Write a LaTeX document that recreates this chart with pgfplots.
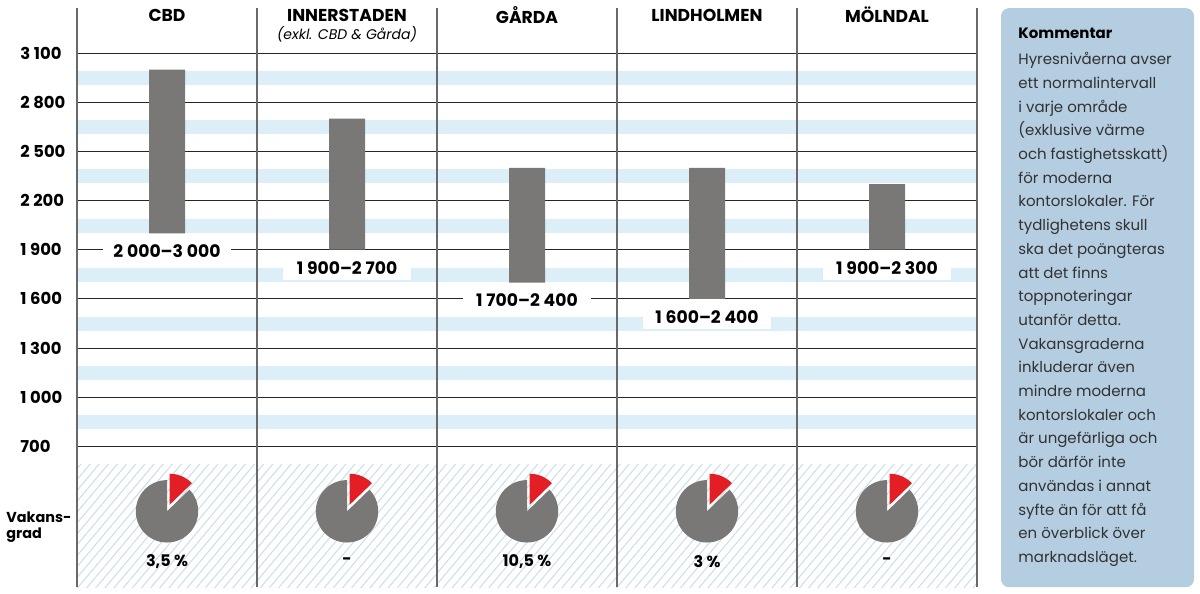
\documentclass[border=0pt]{standalone}
\usepackage{fontspec}
\setmainfont{Poppins}
\usepackage{pgfplots}
\usepackage{pgfplotstable}
\pgfplotsset{compat=1.18}
\usetikzlibrary{patterns.meta}

\definecolor{bargray}{RGB}{122,120,118}
\definecolor{piered}{RGB}{227,30,36}
\definecolor{stripe}{RGB}{220,238,247}
\definecolor{hatch}{RGB}{200,222,234}
\definecolor{boxblue}{RGB}{180,205,224}
\definecolor{gridv}{RGB}{105,105,105}
\definecolor{txt}{RGB}{50,50,50}

\newcommand{\ts}{\hspace{0.22em}}

% hyresniva, kr/kvm
\pgfplotstableread{
x low high
0 2000 3000
1 1900 2700
2 1700 2400
3 1600 2400
4 1900 2300
}\hyra

% vakanspaj: grå kropp, röd tårtbit lite utflyttad
\pgfdeclareplotmark{vakpie}{%
  \pgfpathmoveto{\pgfpointorigin}%
  \pgfpathlineto{\pgfpointpolar{90}{\pgfplotmarksize}}%
  \pgfpatharc{90}{404}{\pgfplotmarksize}%
  \pgfpathclose
  \pgfsetfillcolor{bargray}%
  \pgfusepath{fill}%
  \pgfpathmoveto{\pgfpoint{1.25pt}{3.2pt}}%
  \pgfpathlineto{\pgfpointadd{\pgfpoint{1.25pt}{3.2pt}}{\pgfpointpolar{44}{\pgfplotmarksize}}}%
  \pgfpatharc{44}{90}{\pgfplotmarksize}%
  \pgfpathclose
  \pgfsetfillcolor{piered}%
  \pgfusepath{fill}%
}

\pgfplotsset{
  panel/.style={
    scale only axis, width=450pt, height=289.5pt,
    at={(38.5pt,3pt)}, anchor=south west,
    xmin=-0.5, xmax=4.5, ymin=-160, ymax=3375,
  },
}

\begin{document}
\begin{tikzpicture}
\path (0,0) rectangle (600pt,296pt);

\begin{axis}[
  panel, set layers, clip=false,
  axis line style={draw=none},
  xtick=\empty,
  ytick={700,1000,...,3100},
  ymajorgrids,
  y grid style={black!85, line width=0.5pt},
  major tick length=0pt,
  yticklabel style={font=\bfseries\fontsize{8.2}{9}\selectfont, anchor=west, xshift=-28.5pt, inner sep=0pt},
  /pgf/number format/.cd, 1000 sep={\ts}, assume math mode=true,
]
  % ljusblå ränder
  \pgfplotsinvokeforeach{805,1105,1405,1705,2005,2305,2605,2905}{
    \fill[stripe, on layer=axis background] (axis cs:-0.5,#1) rectangle ++(axis direction cs:5,85);
  }
  % streckat fält för vakansgrad
  \fill[on layer=axis background, pattern={Lines[angle=50,distance=3.5pt,line width=0.5pt]}, pattern color=hatch]
    (axis cs:-0.5,-160) rectangle (axis cs:4.5,590);
  % kolumnavgränsare
  \pgfplotsinvokeforeach{-0.5,0.5,1.5,2.5,3.5,4.5}{
    \draw[gridv, line width=0.75pt, on layer=axis grid] (axis cs:#1,-160) -- (axis cs:#1,3375);
  }

  \addplot[only marks, mark=vakpie, mark size=15.6pt] coordinates {(0,303) (1,303) (2,303) (3,303) (4,303)};

  % rubriker
  \begin{scope}[font=\bfseries\fontsize{8.6}{9}\selectfont]
    \node at (axis cs:0,3332) {CBD};
    \node at (axis cs:1,3332) {INNERSTADEN};
    \node at (axis cs:2,3332) {GÅRDA};
    \node at (axis cs:3,3332) {LINDHOLMEN};
    \node at (axis cs:4,3332) {MÖLNDAL};
  \end{scope}
  \node[font=\itshape\fontsize{7}{9}\selectfont] at (axis cs:1,3216) {(exkl. CBD \& Gårda)};

  % intervalletiketter
  \begin{scope}[every node/.style={fill=white, minimum width=64pt, minimum height=12pt, inner sep=0pt, yshift=-9pt, font=\bfseries\fontsize{8.6}{9}\selectfont}]
    \node at (axis cs:0,2000) {2\ts000–3\ts000};
    \node at (axis cs:1,1900) {1\ts900–2\ts700};
    \node at (axis cs:2,1700) {1\ts700–2\ts400};
    \node at (axis cs:3,1600) {1\ts600–2\ts400};
    \node at (axis cs:4,1900) {1\ts900–2\ts300};
  \end{scope}

  % vakansgrad
  \begin{scope}[font=\bfseries\fontsize{8}{9}\selectfont]
    \node at (axis cs:0,-2) {3,5 \%};
    \node at (axis cs:1,-2) {-};
    \node at (axis cs:2,-2) {10,5 \%};
    \node at (axis cs:3,-2) {3 \%};
    \node at (axis cs:4,-2) {-};
  \end{scope}
\end{axis}

\begin{axis}[panel, hide axis, ybar stacked, bar width=18pt]
  \addplot[draw=none, fill=none] table[x=x, y=low] {\hyra};
  \addplot[draw=none, fill=bargray] table[x=x, y expr=\thisrow{high}-\thisrow{low}] {\hyra};
\end{axis}

\node[anchor=west, align=left, font=\bfseries\fontsize{7.2}{8}\selectfont, inner sep=0pt] at (3pt,33.2pt) {Vakans-\\grad};

% kommentarsruta
\fill[boxblue, rounded corners=4pt] (500.5pt,3pt) rectangle (597pt,292.5pt);
\node[anchor=north west, align=left, inner sep=0pt, text=txt, font=\fontsize{7.5}{11.85}\selectfont] at (509pt,283pt) {%
  {\color{black}\bfseries Kommentar}\\[1.5pt]
  Hyresnivåerna avser\\
  ett normalintervall\\
  i varje område\\
  (exklusive värme\\
  och fastighetsskatt)\\
  för moderna\\
  kontorslokaler. För\\
  tydlighetens skull\\
  ska det poängteras\\
  att det finns\\
  toppnoteringar\\
  utanför detta.\\
  Vakansgraderna\\
  inkluderar även\\
  mindre moderna\\
  kontorslokaler och\\
  är ungefärliga och\\
  bör därför inte\\
  användas i annat\\
  syfte än för att få\\
  en överblick över\\
  marknadsläget.};
\end{tikzpicture}
\end{document}
